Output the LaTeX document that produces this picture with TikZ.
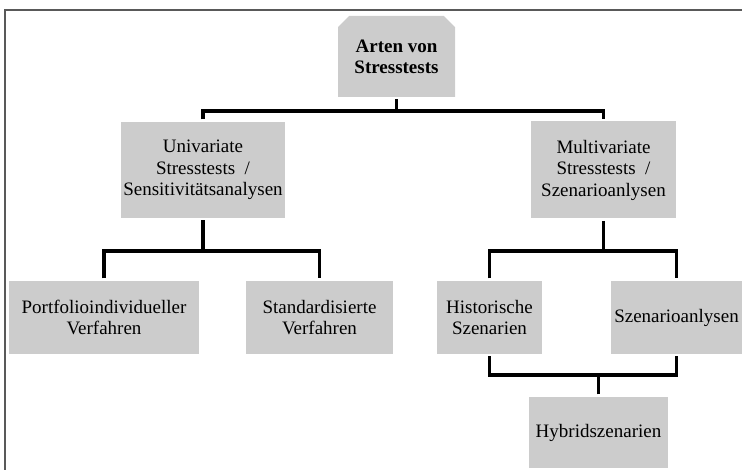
\documentclass[tikz,border=0pt]{standalone}
\usepackage{fontspec}
\setmainfont{Liberation Serif}
\usetikzlibrary{shapes.misc}
\begin{document}
\begin{tikzpicture}[x=1pt,y=1pt,
    box/.style={fill=black!20,align=center,inner sep=0pt,outer sep=2.5pt,font=\fontsize{19}{21.5}\selectfont},
    conn/.style={line width=3.3pt}]
  \useasboundingbox (0,0) rectangle (742,470);
  \draw[black!65,line width=2.2pt] (5,0) |- (742,460);
  \node[box,chamfered rectangle,chamfered rectangle corners={north west,north east},chamfered rectangle xsep=8pt,minimum width=117pt,minimum height=81pt,font=\fontsize{19}{21}\selectfont\bfseries] (arten) at (396.5,413.5) {Arten von\\Stresstests};
  \node[box,minimum width=164pt,minimum height=96pt] (uni) at (203,300) {Univariate\\Stresstests~ /\\Sensitivitätsanalysen};
  \node[box,minimum width=145pt,minimum height=97pt] (multi) at (603.5,300) {Multivariate\\Stresstests~ /\\Szenarioanlysen};
  \node[box,minimum width=190pt,minimum height=73pt] (port) at (104,152.5) {Portfolioindividueller\\Verfahren};
  \node[box,minimum width=147pt,minimum height=73pt] (std) at (319.5,152.5) {Standardisierte\\Verfahren};
  \node[box,minimum width=105pt,minimum height=73pt] (hist) at (489.5,152.5) {Historische\\Szenarien};
  \node[box,minimum width=131pt,minimum height=73pt] (szen) at (676.5,152.5) {Szenarioanlysen};
  \node[box,minimum width=139pt,minimum height=71pt] (hyb) at (598.5,37.5) {Hybridszenarien};
  \draw[conn] (arten.south) -- ++(0,-11.5) coordinate (j1);
  \draw[conn] (uni.north) |- (j1) -| (multi.north);
  \draw[conn] (uni.south) -- ++(0,-30.5) coordinate (j2);
  \draw[conn] (port.north) |- (j2) -| (std.north);
  \draw[conn] (multi.south) -- ++(0,-30) coordinate (j3);
  \draw[conn] (hist.north) |- (j3) -| (szen.north);
  \draw[conn] (hist.south) -- ++(0,-18.5) -| (szen.south);
  \draw[conn] (hyb.north) -- ++(0,19.5);
\end{tikzpicture}
\end{document}
